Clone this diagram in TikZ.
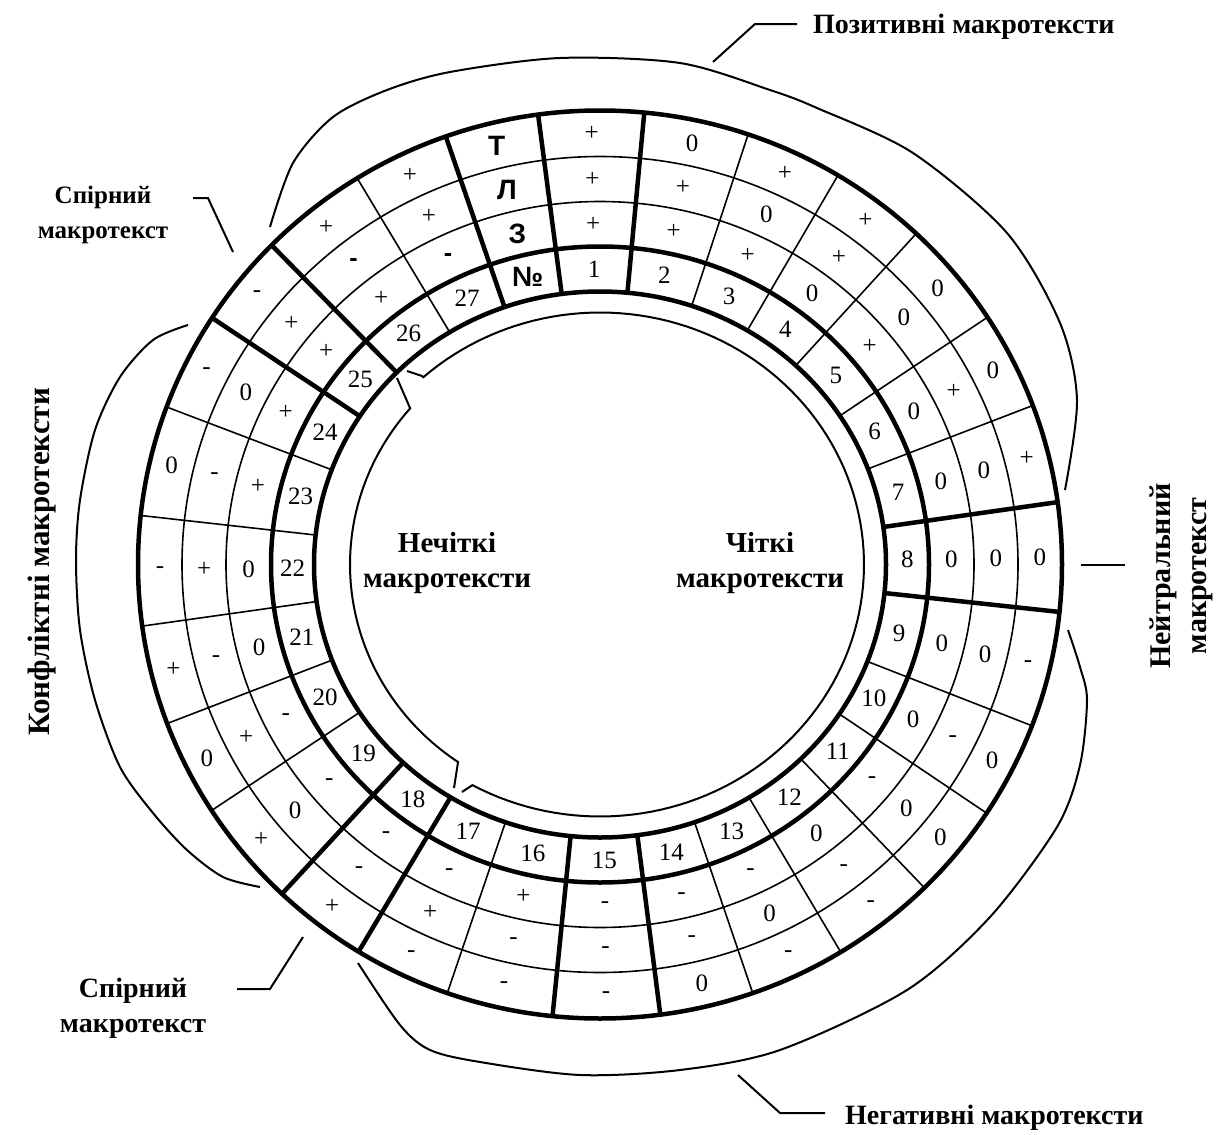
\documentclass[tikz,border=0pt]{standalone}
\usepackage{fontspec}
\setmainfont{Liberation Serif}
\newfontfamily\hdrfont{Liberation Sans}
\begin{document}
\begin{tikzpicture}[x=1pt,y=-1pt,
  thinline/.style={line width=1.6pt},
  thickline/.style={line width=4.5pt},
  brk/.style={line width=2pt},
  cell/.style={inner sep=0pt, font=\fontsize{25}{30}\selectfont},
  hdr/.style={inner sep=0pt, font=\hdrfont\bfseries\fontsize{28}{31}\selectfont},
  biglabel/.style={inner sep=0pt, align=center, font=\bfseries\fontsize{28}{35}\selectfont}]
\useasboundingbox (0,0) rectangle (1227,1135);
% thin radial lines
\foreach \a in {71.3,59,46.8,33,20.5,-20.8,-33.2,-45.4,-58.6,-70.7,-109.3,-147.2,-159.5,-172.2,173.8,159.7,121.7}
  \draw[thinline] ({600+286*cos(\a)},{564.5-273*sin(\a)}) -- ({600+462*cos(\a)},{564.5-454*sin(\a)});
% thin rings
\draw[thinline] (600,564.5) ellipse [x radius=418, y radius=408];
\draw[thinline] (600,564.5) ellipse [x radius=374, y radius=363];
% thick radial lines
\foreach \a in {109.5,97.7,84.5,7.9,-6,-82.5,-95.9,-121.5,-133.5,147.1,135.3}
  \draw[thickline] ({600+286*cos(\a)},{564.5-273*sin(\a)}) -- ({600+462*cos(\a)},{564.5-454*sin(\a)});
% thick rings
\draw[thickline] (600,564.5) ellipse [x radius=462, y radius=454];
\draw[thickline] (600,564.5) ellipse [x radius=329, y radius=318];
\draw[thickline] (600,564.5) ellipse [x radius=286, y radius=273];
% header column
\node[hdr] (hT) at ({600+440*cos(103.6)},{564.5-431*sin(103.6)}) {Т};
\node[hdr] (hL) at ({600+396*cos(103.6)},{564.5-385.5*sin(103.6)}) {Л};
\node[hdr] (hZ) at ({600+351.5*cos(103.6)},{564.5-340.5*sin(103.6)}) {З};
\node[hdr] (hN) at ({600+307.5*cos(103.6)},{564.5-295.5*sin(103.6)}) {№};
% cells
\foreach \a/\t/\l/\z/\n in {91.1/+/+/+/1, 77.9/0/+/+/2, 65.15/+/0/+/3, 52.9/+/+/0/4,
  39.9/0/0/+/5, 26.75/0/+/0/6, 14.2/+/0/0/7, 0.95/0/0/0/8, -13.4/-/0/0/9,
  -27/0/-/0/10, -39.3/0/0/-/11, -52/-/-/0/12, -64.65/-/0/-/13, -76.6/0/-/-/14,
  -89.2/-/-/-/15, -102.6/-/-/+/16, -115.4/-/+/-/17, -127.5/+/-/-/18,
  -140.35/+/0/-/19, -153.35/0/+/-/20, -165.85/+/-/0/21, -179.2/-/+/0/22,
  -193.25/0/-/+/23, 153.4/-/0/+/24, 141.2/-/+/+/25,
  128.5/+/{\hdrfont\bfseries -}/+/26, 115.6/+/+/{\hdrfont\bfseries -}/27}
{
  \node[cell] (T-\n) at ({600+440*cos(\a)},{564.5-431*sin(\a)}) {\t};
  \node[cell] (L-\n) at ({600+396*cos(\a)},{564.5-385.5*sin(\a)}) {\l};
  \node[cell] (Z-\n) at ({600+351.5*cos(\a)},{564.5-340.5*sin(\a)}) {\z};
  \node[cell] (N-\n) at ({600+307.5*cos(\a)},{564.5-295.5*sin(\a)}) {\n};
}
% inner brackets
\draw[brk] (407,371) -- (422,376) -- plot[domain=132:-118.9, samples=120] ({600+264*cos(\x)},{564.5-252*sin(\x)}) -- (462,792);
\draw[brk] (397,378) -- (410,408) -- plot[domain=139.4:235.4, samples=80] ({600+250*cos(\x)},{564.5-240*sin(\x)}) -- (454,788);
\node[biglabel, font=\bfseries\fontsize{29}{35}\selectfont] (nech) at (447,563) {Нечіткі\\макротексти};
\node[biglabel, font=\bfseries\fontsize{29}{35}\selectfont] (chit) at (760,563) {Чіткі\\макротексти};
% outer brackets
\draw[brk] plot[smooth] coordinates {(270,227) (293,163) (333,117) (387,90) (450,72) (560,58) (680,63) (770,90) (817,108) (913,153) (1007,233) (1060,323) (1077,400) (1065,490)};
\draw[brk] plot[smooth] coordinates {(188,325) (153,340) (120,377) (95,430) (80,500) (76,560) (80,630) (95,700) (120,767) (153,813) (187,850) (223,877) (260,887)};
\draw[brk] plot[smooth] coordinates {(1068,630) (1080,667) (1087,700) (1080,765) (1057,827) (990,917) (907,990) (780,1050) (680,1070) (580,1075) (480,1062) (430,1050) (400,1025) (358,963)};
% labels and leaders
\node[biglabel, anchor=base west] (poz) at (813,33) {Позитивні макротексти};
\coordinate (pz1) at (797,24);
\draw[brk] (pz1) -- (755,24) -- (713,62);
\node[biglabel, font=\bfseries\fontsize{25}{35}\selectfont] (sp1) at (103,215) {Спірний\\макротекст};
\coordinate (s1) at (193,198);
\draw[brk] (s1) -- (208,198) -- (233,252);
\node[biglabel, font=\bfseries\fontsize{31}{35}\selectfont] (konf) at (42,562) [rotate=90] {Конфліктні макротексти};
\node[biglabel] (sp2) at (133,1008) {Спірний\\макротекст};
\coordinate (s2) at (237,989);
\draw[brk] (s2) -- (270,989) -- (303,937);
\node[biglabel, anchor=base west] (neg) at (845,1124) {Негативні макротексти};
\coordinate (ng1) at (825,1113);
\draw[brk] (ng1) -- (780,1113) -- (738,1075);
\node[biglabel, font=\bfseries\fontsize{30}{36}\selectfont, rotate=90] (neut) at (1181,576) {Нейтральний\\макротекст};
\coordinate (nt1) at (1125,565);
\draw[brk] (nt1) -- (1081,565);
\end{tikzpicture}
\end{document}
